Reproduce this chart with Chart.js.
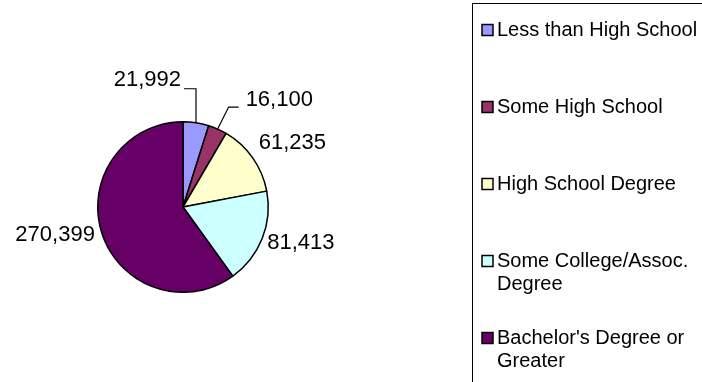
<!DOCTYPE html>
<html>
<head>
<meta charset="utf-8">
<title>Education</title>
<script src="https://cdn.jsdelivr.net/npm/chart.js@4/dist/chart.umd.min.js"></script>
<style>
  html, body { margin: 0; padding: 0; background: #fff; }
  #wrap { width: 702px; height: 382px; }
</style>
</head>
<body>
<div id="wrap"><canvas id="eduChart" width="702" height="382"></canvas></div>
<script>
const categories = [
  "Less than High School",
  "Some High School",
  "High School Degree",
  "Some College/Assoc. Degree",
  "Bachelor's Degree or Greater"
];
const counts = [21992, 16100, 61235, 81413, 270399];
const sliceColors = ["#9999FF", "#993366", "#FFFFCC", "#CCFFFF", "#660066"];

const FONT = '"Liberation Sans", Arial, sans-serif';

// value label placement, relative to the outer midpoint of each slice
const labelPlacement = [
  { dx: -15, dy: -43, align: "right", leader: [[0, -34], [-12, -34]] },
  { dx: 28, dy: -29, align: "left", leader: [[11, -22], [21, -22]] },
  { dx: 6, dy: -15, align: "left", leader: null },
  { dx: 5, dy: 4, align: "left", leader: null },
  { dx: -7, dy: 2, align: "right", leader: null }
];

const valueLabels = {
  id: "valueLabels",
  afterDatasetsDraw(chart) {
    const ctx = chart.ctx;
    const arcs = chart.getDatasetMeta(0).data;
    ctx.save();
    ctx.font = "22px " + FONT;
    ctx.fillStyle = "#000";
    ctx.strokeStyle = "#000";
    ctx.lineWidth = 1.2;
    ctx.textBaseline = "middle";
    arcs.forEach((arc, i) => {
      const p = arc.getProps(["x", "y", "startAngle", "endAngle", "outerRadius"], true);
      const mid = (p.startAngle + p.endAngle) / 2;
      const ex = p.x + Math.cos(mid) * p.outerRadius;
      const ey = p.y + Math.sin(mid) * p.outerRadius;
      const pl = labelPlacement[i];
      if (pl.leader) {
        ctx.beginPath();
        ctx.moveTo(ex, ey);
        pl.leader.forEach(([lx, ly]) => ctx.lineTo(ex + lx, ey + ly));
        ctx.stroke();
      }
      ctx.textAlign = pl.align;
      ctx.fillText(counts[i].toLocaleString("en-US"), ex + pl.dx, ey + pl.dy);
    });
    ctx.restore();
  }
};

// boxed legend on the right, wrapping long names
const boxLegend = {
  id: "boxLegend",
  afterDraw(chart) {
    const ctx = chart.ctx;
    const boxX = 472.5, boxY = 3.5;
    const textX = 497, maxW = 204;
    const firstY = 30, step = 77, lineH = 23;
    ctx.save();
    ctx.strokeStyle = "#000";
    ctx.lineWidth = 1;
    ctx.strokeRect(boxX, boxY, 300, 420);
    ctx.font = "20px " + FONT;
    ctx.textBaseline = "middle";
    ctx.textAlign = "left";
    categories.forEach((name, i) => {
      const cy = firstY + i * step;
      ctx.fillStyle = sliceColors[i];
      ctx.fillRect(482, cy - 5.5, 11, 11);
      ctx.lineWidth = 1.5;
      ctx.strokeRect(482, cy - 5.5, 11, 11);
      // word wrap
      const words = name.split(" ");
      const lines = [];
      let line = "";
      words.forEach(w => {
        const test = line ? line + " " + w : w;
        if (ctx.measureText(test).width > maxW && line) {
          lines.push(line);
          line = w;
        } else {
          line = test;
        }
      });
      lines.push(line);
      ctx.fillStyle = "#000";
      lines.forEach((ln, k) => ctx.fillText(ln, textX, cy + k * lineH));
    });
    ctx.restore();
  }
};

new Chart(document.getElementById("eduChart"), {
  type: "pie",
  data: {
    labels: categories,
    datasets: [{
      data: counts,
      backgroundColor: sliceColors,
      borderColor: "#000",
      borderWidth: 1.5
    }]
  },
  options: {
    responsive: false,
    animation: false,
    layout: { padding: { left: 97, right: 433, top: 121, bottom: 89 } },
    plugins: {
      legend: { display: false },
      tooltip: { enabled: false }
    }
  },
  plugins: [valueLabels, boxLegend]
});
</script>
</body>
</html>
